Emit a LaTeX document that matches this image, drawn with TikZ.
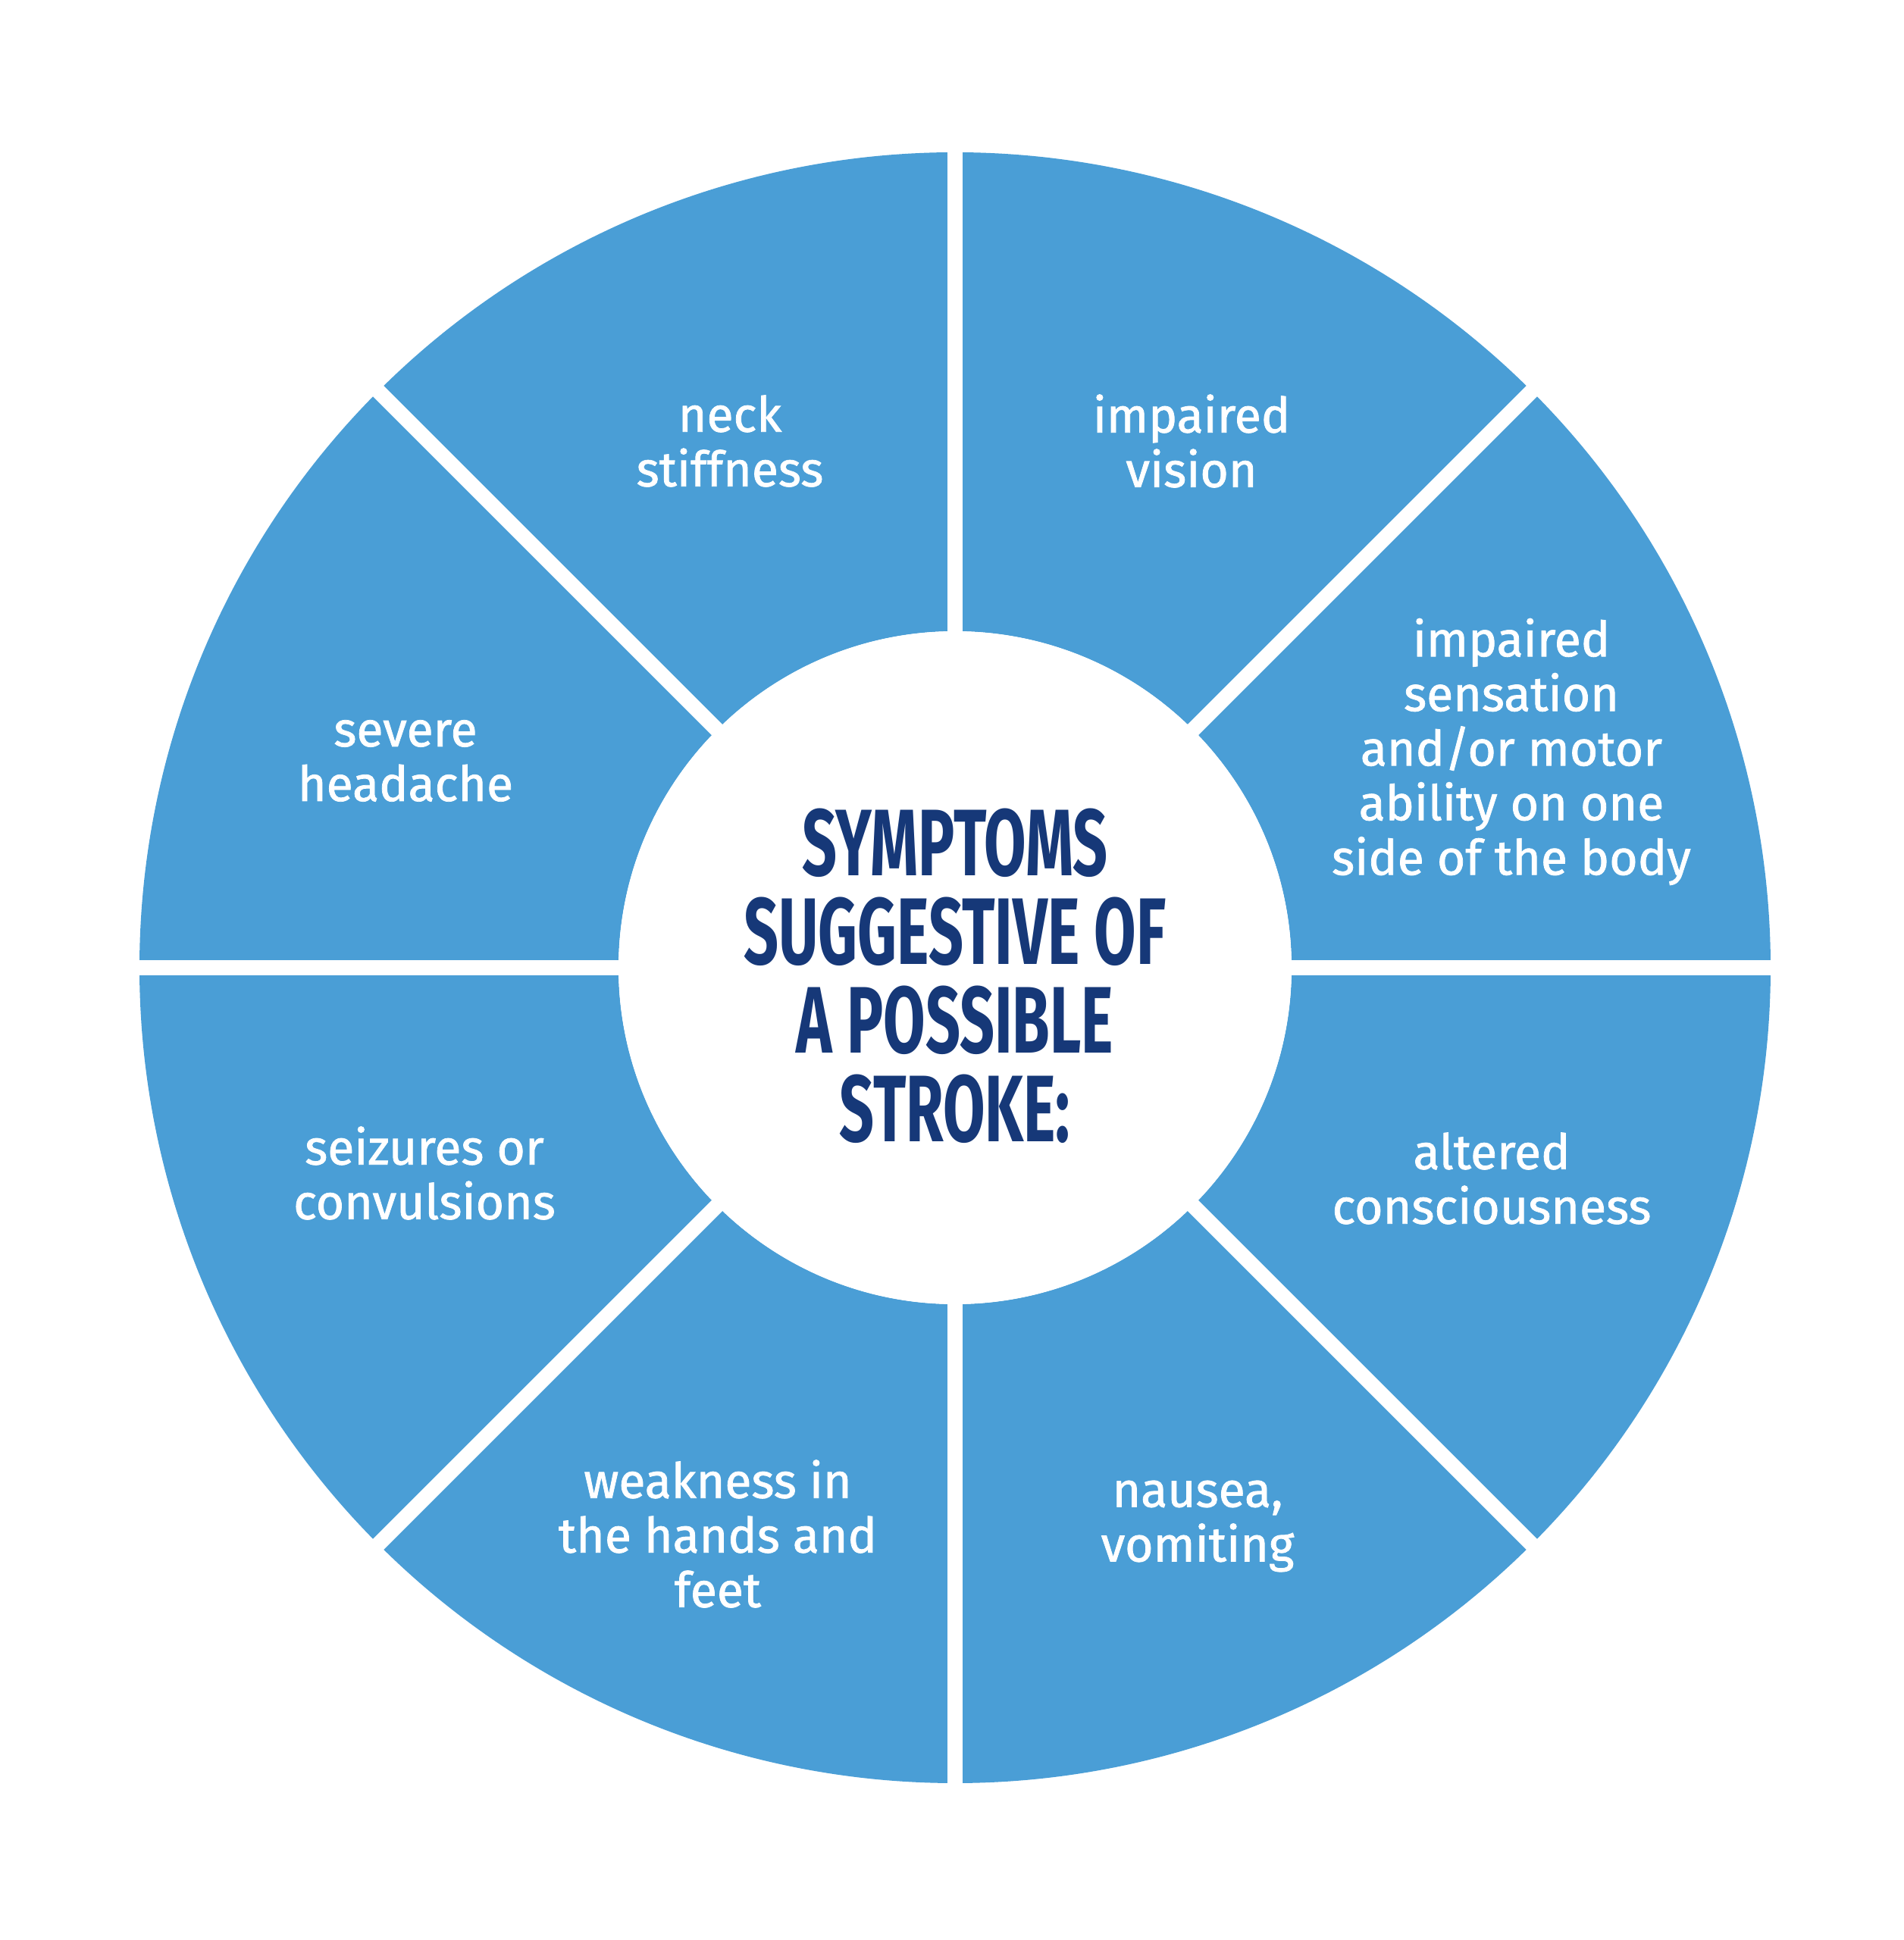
\documentclass[tikz,border=0pt]{standalone}
\usepackage{fontspec}
\setmainfont{Fira Sans}
\newfontfamily\titlefont[FakeStretch=0.645]{Fira Sans}
\newfontfamily\symptomfont[FakeBold=1.2]{Fira Sans}
\usepackage{color}
\definecolor{wheelblue}{RGB}{74,158,214}
\definecolor{titlenavy}{RGB}{22,56,120}
\newcommand{\rout}{10.76}
\newcommand{\rin}{4.44}
\newcommand{\gapwidth}{0.20cm}
\tikzset{
    sector/.style={fill=wheelblue},
    gap/.style={draw=white, line width=\gapwidth},
    symptom/.style={align=center, text=white, font=\symptomfont\fontsize{18.3}{20.5}\selectfont, inner sep=0pt},
    heading/.style={align=center, text=titlenavy, font=\titlefont\bfseries\fontsize{35.5}{33.3}\selectfont, inner sep=0pt},
}
\begin{document}
\begin{tikzpicture}
          \useasboundingbox (0,0) rectangle (25.12,25.60);
          \coordinate (C) at (12.60,12.83);

          % ring of eight sectors
          \begin{scope}[shift={(C)}]
          \foreach \a in {0,45,...,315}
              \fill[sector] (\a:\rout) arc[start angle=\a, delta angle=45, radius=\rout]
                  -- (\a+45:\rin) arc[start angle=\a+45, delta angle=-45, radius=\rin] -- cycle;
          \foreach \a in {0,45,...,315}
              \draw[gap] (0,0) -- (\a:\rout+0.1);
          \fill[white] (0,0) circle[radius=\rin];
          \end{scope}

          \node[heading] (title) at (12.60,12.72) {SYMPTOMS\\SUGGESTIVE OF\\A POSSIBLE\\STROKE:};

          \node[symptom] (neck) at (9.63,19.78) {neck\\stiffness};
          \node[symptom] (vision) at (15.72,19.78) {impaired\\vision};
          \node[symptom] (sensation) at (19.94,15.68) {impaired\\sensation\\and/or motor\\ability on one\\side of the body};
          \node[symptom] (headache) at (5.35,15.56) {severe\\headache};
          \node[symptom] (seizures) at (5.60,10.12) {seizures or\\convulsions};
          \node[symptom] (consciousness) at (19.68,10.05) {altered\\consciousness};
          \node[symptom] (weakness) at (9.47,5.36) {weakness in\\the hands and\\feet};
          \node[symptom] (nausea) at (15.80,5.46) {nausea,\\vomiting};
      \end{tikzpicture}
\end{document}
